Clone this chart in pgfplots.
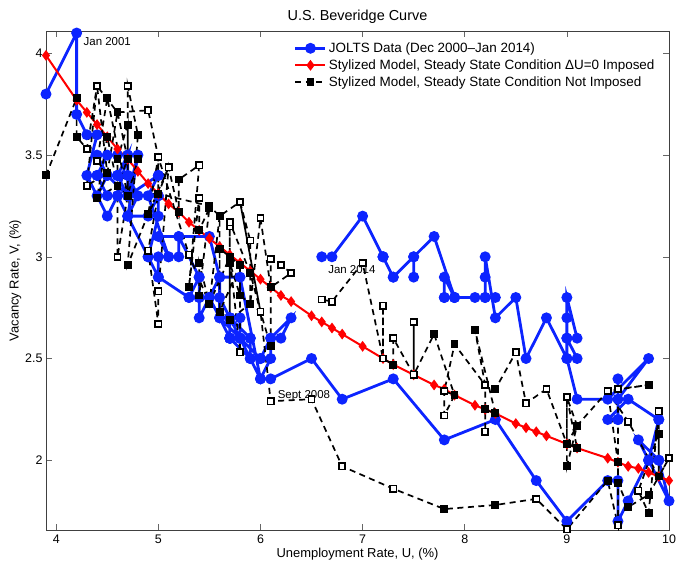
\documentclass[border=0pt]{standalone}
\usepackage{fontspec}
\setmainfont{Liberation Sans}
\usepackage{pgfplots}
\pgfplotsset{compat=1.18}
\usepackage{pgfplotstable}
\usetikzlibrary{calc}
\definecolor{jblue}{RGB}{12,36,255}

% U = unemployment rate, Vb = JOLTS vacancy rate, Vm = model (no steady state), Vh = same as Vm where marker is hollow
\pgfplotstableread{
U Vb Vm Vh
3.9 3.8 3.40 nan
4.2 4.1 3.78 nan
4.2 3.7 3.59 nan
4.3 3.6 3.53 3.53
4.4 3.6 3.84 3.84
4.3 3.4 3.35 3.35
4.5 3.2 3.41 nan
4.6 3.3 3.71 nan
4.9 3.0 3.72 3.72
5.0 2.9 3.49 3.49
5.3 2.8 3.01 3.01
5.5 2.8 2.77 nan
5.7 2.6 3.00 nan
5.7 2.7 2.69 nan
5.7 2.6 3.15 3.15
5.7 2.7 2.69 nan
5.9 2.6 2.77 nan
5.8 2.6 2.81 nan
5.8 2.7 2.96 nan
5.8 2.6 2.53 2.53
5.7 2.6 3.00 nan
5.7 2.7 2.69 nan
5.7 2.6 3.17 3.17
5.9 2.5 2.92 nan
6.0 2.5 2.73 2.73
5.8 2.6 3.27 3.27
5.9 2.6 3.08 3.08
5.9 2.5 2.77 nan
6.0 2.5 3.19 3.19
6.1 2.6 2.85 nan
6.3 2.7 2.92 2.92
6.2 2.6 2.96 2.96
6.1 2.6 2.99 2.99
6.1 2.5 2.56 nan
6.0 2.4 2.73 2.73
5.8 2.6 2.81 nan
5.7 2.7 2.97 nan
5.7 2.6 2.69 nan
5.6 2.7 2.73 nan
5.8 2.6 2.96 nan
5.6 2.8 3.04 nan
5.6 2.7 2.73 nan
5.6 2.9 3.20 nan
5.5 2.8 2.77 nan
5.4 2.8 2.97 nan
5.4 2.7 2.81 nan
5.5 2.8 3.24 nan
5.4 2.8 3.13 nan
5.4 2.9 3.29 3.29
5.3 2.8 2.85 nan
5.4 2.9 3.45 3.45
5.2 3.1 3.38 nan
5.2 3.0 3.22 nan
5.1 3.0 3.44 3.44
5.0 3.0 2.83 2.83
5.0 2.9 2.67 2.67
4.9 3.0 3.03 3.03
5.0 3.2 3.31 nan
5.0 3.3 3.49 3.49
5.0 3.3 3.31 nan
4.9 3.2 3.21 nan
4.7 3.2 2.96 nan
4.8 3.3 3.60 nan
4.7 3.4 3.84 3.84
4.7 3.3 3.30 nan
4.6 3.4 3.00 3.00
4.6 3.4 3.48 nan
4.7 3.5 3.65 nan
4.7 3.3 3.30 nan
4.5 3.4 3.78 nan
4.4 3.3 3.47 3.47
4.5 3.4 3.41 nan
4.4 3.5 3.29 nan
4.6 3.5 3.35 nan
4.5 3.5 3.59 nan
4.4 3.4 3.29 nan
4.5 3.3 3.41 nan
4.4 3.4 3.84 3.84
4.6 3.4 3.71 nan
4.7 3.5 3.48 nan
4.6 3.3 3.35 nan
4.7 3.2 3.30 nan
4.8 3.5 3.48 nan
4.7 3.3 3.30 nan
5.0 3.4 3.31 nan
5.0 3.4 3.49 3.49
4.9 3.3 3.21 nan
5.1 3.0 3.44 3.44
5.0 3.1 3.31 nan
5.5 3.1 3.25 nan
5.6 2.9 3.20 nan
5.8 2.9 3.27 3.27
6.0 2.4 2.73 2.73
6.1 2.4 2.29 2.29
6.5 2.5 2.30 2.30
6.8 2.3 1.97 1.97
7.3 2.4 1.86 1.86
7.8 2.1 1.76 nan
8.3 2.2 1.78 nan
8.7 1.9 1.81 1.81
9.0 1.7 1.66 1.66
9.4 1.9 1.90 nan
9.5 1.9 1.68 1.68
9.5 1.7 1.89 nan
9.6 1.8 1.77 nan
9.8 2.0 1.83 nan
10.0 1.8 2.01 2.01
9.9 2.0 1.92 nan
9.9 2.0 2.13 nan
9.7 2.1 1.85 1.85
9.8 2.0 1.74 nan
9.9 2.2 2.24 2.24
9.9 2.2 1.92 nan
9.6 2.3 2.19 2.19
9.4 2.2 2.34 2.34
9.5 2.2 1.99 nan
9.5 2.4 1.99 nan
9.5 2.2 1.89 nan
9.5 2.3 2.35 2.35
9.8 2.5 2.37 nan
9.4 2.3 2.34 2.34
9.1 2.3 2.17 nan
9.0 2.5 1.97 nan
9.0 2.6 2.08 nan
9.1 2.5 2.06 nan
9.0 2.6 2.31 2.31
9.1 2.6 2.17 nan
9.0 2.8 2.08 nan
9.0 2.7 2.31 2.31
9.0 2.5 2.08 nan
8.8 2.7 2.35 2.35
8.6 2.5 2.28 2.28
8.5 2.8 2.53 2.53
8.3 2.7 2.35 nan
8.2 3.0 2.37 2.37
8.2 2.9 2.14 2.14
8.2 2.8 2.25 nan
8.3 2.8 2.23 nan
8.1 2.8 2.64 nan
8.2 2.8 2.37 2.37
7.9 2.8 2.57 nan
7.8 2.8 2.34 2.34
7.9 2.8 2.32 nan
7.8 2.9 2.22 2.22
7.8 2.8 2.34 2.34
7.9 2.8 2.32 nan
7.7 3.1 2.62 nan
7.5 3.0 2.42 2.42
7.5 2.9 2.68 2.68
7.5 3.0 2.42 2.42
7.3 2.9 2.60 2.60
7.3 2.9 2.47 nan
7.2 3.0 2.50 2.50
7.2 3.0 2.76 2.76
7.2 3.0 2.50 2.50
7.0 3.2 2.97 2.97
6.7 3.0 2.78 2.78
6.6 3.0 2.79 2.79
}\jolts

% Steady-state model curve
\pgfplotstableread{
U Vr
3.9 3.99
4.2 3.77
4.3 3.71
4.4 3.65
4.5 3.59
4.6 3.53
4.7 3.48
4.8 3.42
4.9 3.36
5.0 3.31
5.1 3.26
5.2 3.22
5.3 3.17
5.4 3.13
5.5 3.09
5.6 3.05
5.7 3.01
5.8 2.97
5.9 2.93
6.0 2.89
6.1 2.85
6.2 2.81
6.3 2.78
6.5 2.71
6.6 2.68
6.7 2.65
6.8 2.62
7.0 2.56
7.2 2.50
7.3 2.47
7.5 2.42
7.7 2.37
7.8 2.35
7.9 2.32
8.1 2.27
8.2 2.25
8.3 2.23
8.5 2.18
8.6 2.16
8.7 2.14
8.8 2.12
9.0 2.08
9.1 2.06
9.4 2.01
9.5 1.99
9.6 1.97
9.7 1.96
9.8 1.94
9.9 1.92
10.0 1.90
}\ssred

\begin{document}
\begin{tikzpicture}
\begin{axis}[
  name=ax,
  scale only axis, width=623bp, height=499bp,
  xmin=3.9, xmax=10, ymin=1.657, ymax=4.11,
  xtick={4,5,6,7,8,9,10}, ytick={2,2.5,3,3.5,4},
  yticklabels={2,2.5,3,3.5,4},
  tick align=inside, major tick length=6bp,
  tick style={black!60, line width=0.5bp},
  axis line style={black!75, line width=0.7bp},
  /pgf/number format/assume math mode=true,
  ticklabel style={font=\fontsize{12.5}{14}\selectfont},
  xticklabel style={yshift=-1.5bp},
  title={U.S. Beveridge Curve},
  title style={font=\fontsize{14.5}{16}\selectfont, yshift=-2bp},
  xlabel={Unemployment Rate, U, (\%)},
  ylabel={Vacancy Rate, V, (\%)},
  label style={font=\fontsize{13}{15}\selectfont},
  xlabel style={yshift=3bp},
  ylabel style={yshift=-3bp},
  legend style={at={(0.985,0.985)}, anchor=north east, draw=none, fill=none,
    font=\fontsize{13.5}{15}\selectfont, row sep=1.8bp},
  legend cell align=left,
  legend image code/.code={\draw[mark repeat=2,mark phase=2,#1] plot coordinates {(0bp,0bp) (15bp,0bp) (30bp,0bp)};},
]
\addplot[jblue, line width=2.8bp, mark=*, mark size=4bp, mark options={solid}]
  table[x=U, y=Vb]{\jolts};
\addlegendentry{JOLTS Data (Dec 2000--Jan 2014)}
\addplot[red, line width=2bp, mark=diamond*, mark size=3.8bp, mark options={solid}]
  table[x=U, y=Vr]{\ssred};
\addlegendentry{Stylized Model, Steady State Condition ΔU=0 Imposed}
\addplot[black, line width=1.7bp, dash pattern=on 6bp off 4.5bp, mark=square*, mark size=3.1bp, mark options={solid}]
  table[x=U, y=Vm]{\jolts};
\addlegendentry{Stylized Model, Steady State Condition Not Imposed}
\addplot[only marks, forget plot, mark=square*, mark size=3.1bp, mark options={solid, fill=white, draw=black, line width=1.6bp}]
  table[x=U, y=Vh]{\jolts};
\node[anchor=west, font=\fontsize{11.5}{13}\selectfont] at (axis cs:4.235,4.06) {Jan 2001};
\node[anchor=west, font=\fontsize{11.5}{13}\selectfont] at (axis cs:6.135,2.318) {Sept 2008};
\node[anchor=west, font=\fontsize{11.5}{13}\selectfont] at (axis cs:6.63,2.936) {Jan 2014};
\end{axis}
\pgfresetboundingbox
\path (ax.south west) ++(-46bp,-34bp) rectangle ($(ax.north east)+(8bp,31bp)$);
\end{tikzpicture}
\end{document}
